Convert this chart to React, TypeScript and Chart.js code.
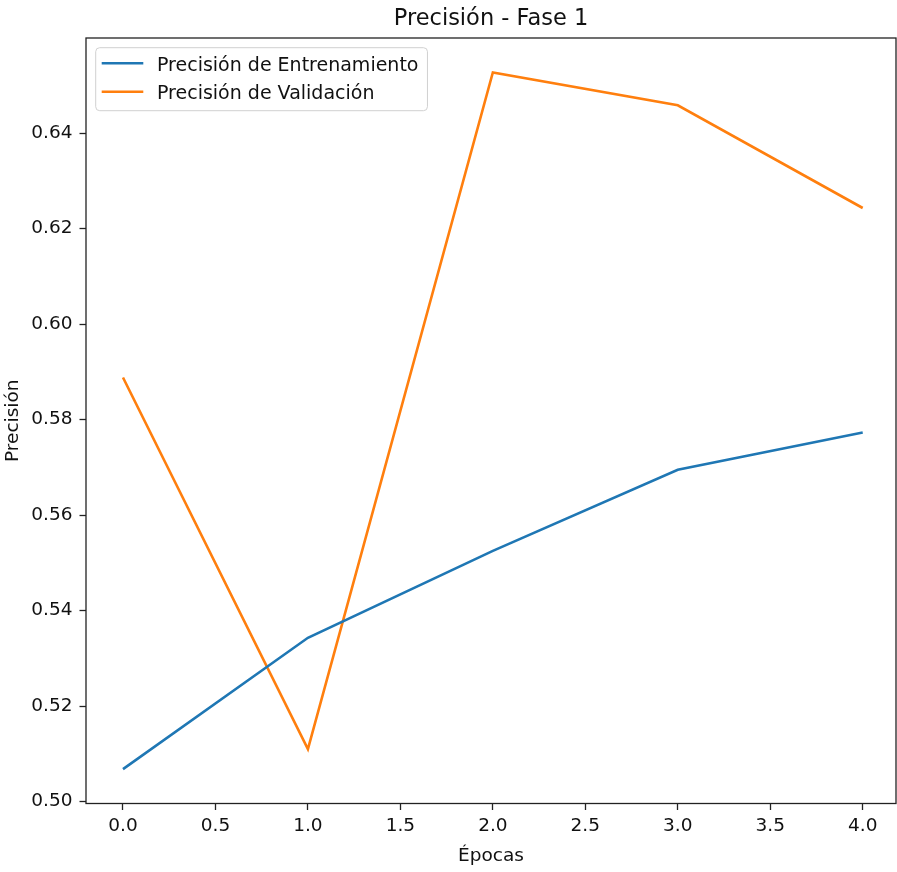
import React, { useEffect, useRef } from "react";
import { Chart, registerables } from "chart.js";

Chart.register(...registerables);

const epochs = [0, 1, 2, 3, 4];
const trainAcc = [0.5068, 0.5343, 0.5525, 0.5695, 0.5773];
const valAcc = [0.5888, 0.511, 0.6527, 0.6458, 0.6243];
const xTicks = [0, 0.5, 1, 1.5, 2, 2.5, 3, 3.5, 4];
const yTicks = [0.5, 0.52, 0.54, 0.56, 0.58, 0.6, 0.62, 0.64];
const seriesLabels = ["Precisión de Entrenamiento", "Precisión de Validación"];
const seriesColors = ["#1f77b4", "#ff7f0e"];
const titleText = "Precisión - Fase 1";
const xLabel = "Épocas";
const yLabel = "Precisión";

const FONT = "'DejaVu Sans', sans-serif";
const TEXT = "#111";

const framePlugin = {
  id: "frameAndLegend",
  afterDatasetsDraw(chart: any) {
    const { ctx, chartArea: a } = chart;
    ctx.save();
    // spines
    ctx.strokeStyle = "#222";
    ctx.lineWidth = 1.3;
    ctx.strokeRect(a.left, a.top, a.right - a.left, a.bottom - a.top);

    // legend
    ctx.font = `19px ${FONT}`;
    const ds = chart.data.datasets;
    let maxW = 0;
    ds.forEach((d: any) => {
      maxW = Math.max(maxW, ctx.measureText(d.label).width);
    });
    const bx = a.left + 9.7;
    const by = a.top + 9.7;
    const textX = a.left + 71;
    const bw = textX + maxW + 9 - bx;
    const rowH = 28.4;
    const bh = 63;
    const r = 4;
    ctx.beginPath();
    ctx.moveTo(bx + r, by);
    ctx.lineTo(bx + bw - r, by);
    ctx.quadraticCurveTo(bx + bw, by, bx + bw, by + r);
    ctx.lineTo(bx + bw, by + bh - r);
    ctx.quadraticCurveTo(bx + bw, by + bh, bx + bw - r, by + bh);
    ctx.lineTo(bx + r, by + bh);
    ctx.quadraticCurveTo(bx, by + bh, bx, by + bh - r);
    ctx.lineTo(bx, by + r);
    ctx.quadraticCurveTo(bx, by, bx + r, by);
    ctx.closePath();
    ctx.fillStyle = "rgba(255,255,255,0.8)";
    ctx.fill();
    ctx.strokeStyle = "#d0d0d0";
    ctx.lineWidth = 1;
    ctx.stroke();

    ds.forEach((d: any, i: number) => {
      const ly = a.top + 25.3 + i * rowH;
      ctx.strokeStyle = d.borderColor;
      ctx.lineWidth = 2.6;
      ctx.beginPath();
      ctx.moveTo(a.left + 15.7, ly);
      ctx.lineTo(a.left + 57.3, ly);
      ctx.stroke();
      ctx.fillStyle = TEXT;
      ctx.textAlign = "left";
      ctx.textBaseline = "alphabetic";
      ctx.fillText(d.label, textX, a.top + 33 + i * rowH);
    });
    ctx.restore();
  },
};

export default function App() {
  const ref = useRef<HTMLCanvasElement>(null);

  useEffect(() => {
    if (!ref.current) return;
    const chart = new Chart(ref.current, {
      type: "line",
      data: {
        datasets: [
          {
            label: seriesLabels[0],
            data: epochs.map((e, i) => ({ x: e, y: trainAcc[i] })),
            borderColor: seriesColors[0],
            backgroundColor: seriesColors[0],
            borderWidth: 2.6,
            pointRadius: 0,
            tension: 0,
            fill: false,
          },
          {
            label: seriesLabels[1],
            data: epochs.map((e, i) => ({ x: e, y: valAcc[i] })),
            borderColor: seriesColors[1],
            backgroundColor: seriesColors[1],
            borderWidth: 2.6,
            pointRadius: 0,
            tension: 0,
            fill: false,
          },
        ],
      },
      options: {
        animation: false,
        responsive: false,
        devicePixelRatio: 1,
        layout: { padding: { top: 0, left: 0, right: 1, bottom: 0 } },
        plugins: {
          legend: { display: false },
          tooltip: { enabled: false },
          title: {
            display: true,
            text: titleText,
            fullSize: false,
            color: TEXT,
            font: { family: FONT, size: 22.5, weight: "normal", lineHeight: 1.2 },
            padding: { top: 5.2, bottom: 5.8 },
          },
        },
        scales: {
          x: {
            type: "linear",
            min: -0.2,
            max: 4.18,
            afterBuildTicks: (s: any) => {
              s.ticks = xTicks.map((v) => ({ value: v }));
            },
            afterFit: (s: any) => {
              s.height = 68.5;
            },
            border: { display: false },
            grid: {
              drawOnChartArea: false,
              drawTicks: true,
              tickLength: 6.5,
              tickWidth: 1.3,
              tickColor: "#222",
            },
            ticks: {
              color: TEXT,
              font: { family: FONT, size: 18.5, lineHeight: 1.2 },
              padding: 5,
              maxRotation: 0,
              autoSkip: false,
              callback: (v: any) => Number(v).toFixed(1),
            },
            title: {
              display: true,
              text: xLabel,
              color: TEXT,
              font: { family: FONT, size: 18.5, lineHeight: 1.2 },
              padding: { top: 0, bottom: 4.6 },
            },
          },
          y: {
            type: "linear",
            min: 0.4996,
            max: 0.6599,
            afterBuildTicks: (s: any) => {
              s.ticks = yTicks.map((v) => ({ value: v }));
            },
            afterFit: (s: any) => {
              s.width = 86;
            },
            border: { display: false },
            grid: {
              drawOnChartArea: false,
              drawTicks: true,
              tickLength: 6.5,
              tickWidth: 1.3,
              tickColor: "#222",
            },
            ticks: {
              color: TEXT,
              font: { family: FONT, size: 18.5, lineHeight: 1.2 },
              padding: 7,
              autoSkip: false,
              callback: (v: any) => Number(v).toFixed(2),
            },
            title: {
              display: true,
              text: yLabel,
              color: TEXT,
              font: { family: FONT, size: 18.5, lineHeight: 1.2 },
              padding: { top: 2.5, bottom: 0 },
            },
          },
        },
      },
      plugins: [framePlugin],
    } as any);
    return () => chart.destroy();
  }, []);

  return (
    <div style={{ position: "absolute", left: 0, top: 0, width: 897, height: 872, background: "#fff" }}>
      <canvas ref={ref} width={897} height={872} style={{ display: "block" }} />
    </div>
  );
}
